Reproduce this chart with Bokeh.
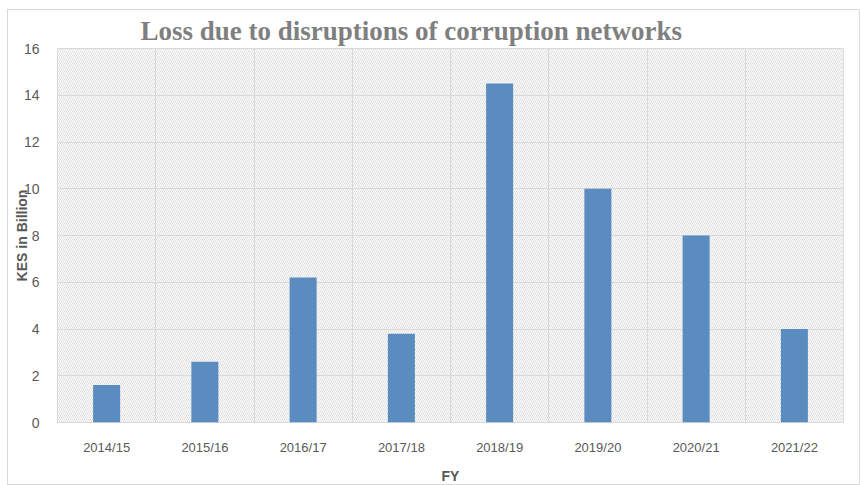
from bokeh.plotting import figure
from bokeh.models import Range1d, FixedTicker, BoxAnnotation, ColumnDataSource
from bokeh.embed import file_html
from bokeh.resources import INLINE

categories = ["2014/15", "2015/16", "2016/17", "2017/18", "2018/19", "2019/20", "2020/21", "2021/22"]
values = [1.6, 2.6, 6.2, 3.8, 14.5, 10.0, 8.0, 4.0]
y_ticks = [0, 2, 4, 6, 8, 10, 12, 14, 16]

xs = [i + 0.5 for i in range(len(categories))]
src = ColumnDataSource(dict(x=xs, top=values, cat=categories))

p = figure(width=853, height=476, output_backend="svg", toolbar_location=None,
           x_range=Range1d(0, len(categories)), y_range=Range1d(0, 16),
           title="Loss due to disruptions of corruption networks",
           min_border_left=49, min_border_right=18, min_border_bottom=50, min_border_top=0)
p.styles = {"border": "1px solid #d9d9d9", "margin-left": "7px", "margin-top": "9px"}

p.title.align = "left"
p.title.offset = 83
p.title.standoff = 6
p.title.text_font = "Liberation Serif"
p.title.text_font_size = "27px"
p.title.text_color = "#7f7f7f"
p.title.text_font_style = "bold"

# hatched plot-area background
p.add_layout(BoxAnnotation(fill_alpha=0, line_color=None,
                           hatch_pattern="\\", hatch_color="#dedede", hatch_scale=4,
                           hatch_weight=1, level="image"))

p.vbar(x="x", top="top", width=0.275, source=src, color="#5b8cc0", line_color=None)

p.outline_line_color = "#d9d9d9"
p.xgrid.ticker = FixedTicker(ticks=list(range(len(categories) + 1)))
p.ygrid.ticker = FixedTicker(ticks=y_ticks)
p.xgrid.grid_line_color = "#d9d9d9"
p.ygrid.grid_line_color = "#d9d9d9"
p.xgrid.level = "underlay"
p.ygrid.level = "underlay"

p.xaxis.ticker = FixedTicker(ticks=xs)
p.xaxis.major_label_overrides = {x: c for x, c in zip(xs, categories)}
p.yaxis.ticker = FixedTicker(ticks=y_ticks)

for ax in (p.xaxis, p.yaxis):
    ax.axis_line_color = None
    ax.major_tick_line_color = None
    ax.minor_tick_line_color = None
    ax.major_label_text_font = "Liberation Sans"
    ax.major_label_text_font_size = "13px"
    ax.major_label_text_color = "#595959"
    ax.axis_label_text_font = "Liberation Sans"
    ax.axis_label_text_font_size = "14px"
    ax.axis_label_text_font_style = "bold"
    ax.axis_label_text_color = "#595959"

p.yaxis.major_label_text_font_size = "14px"
p.xaxis.major_label_standoff = 11
p.yaxis.major_label_standoff = 12
p.xaxis.axis_label = "FY"
p.xaxis.axis_label_standoff = 10
p.yaxis.axis_label = "KES in Billion"
p.yaxis.axis_label_standoff = -9

open("out.html", "w").write(file_html(p, INLINE))
